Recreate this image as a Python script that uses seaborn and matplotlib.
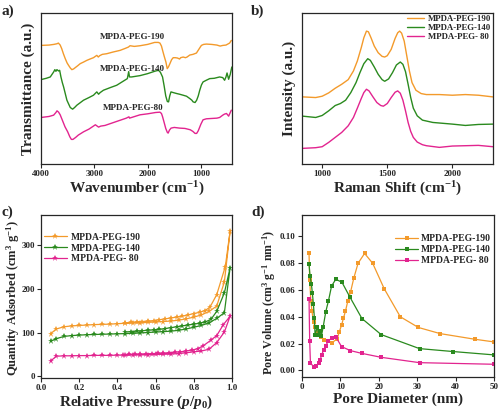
import matplotlib
matplotlib.use('Agg')
import matplotlib.pyplot as plt
import pandas as pd
import seaborn as sns

# colours / names
names = ['MPDA-PEG-190', 'MPDA-PEG-140', 'MPDA-PEG- 80']
colors = ['#F39A2B', '#2A8A1E', '#E2248F']

# a) FTIR (wavenumber, arbitrary transmittance offset)
ftir_x = {
    '190': [4000, 3850, 3760, 3700, 3674, 3640, 3611, 3580, 3545, 3510, 3483, 3450, 3421, 3390, 3358, 3310, 3265, 3200,
            3140, 3080, 3016, 2953, 2925, 2900, 2850, 2766, 2650, 2517, 2420, 2360, 2330, 2250, 2143, 2000, 1868, 1800,
            1769, 1740, 1719, 1690, 1657, 1632, 1610, 1582, 1550, 1520, 1480, 1440, 1400, 1380, 1333, 1290, 1260, 1209,
            1150, 1084, 1040, 991, 950, 898, 800, 700, 640, 587, 530, 462, 430],
    '140': [4000, 3900, 3826, 3763, 3740, 3720, 3701, 3670, 3650, 3626, 3600, 3576, 3545, 3514, 3480, 3451, 3407, 3370,
            3327, 3260, 3202, 3100, 3016, 2953, 2920, 2890, 2829, 2700, 2580, 2450, 2380, 2355, 2340, 2300, 2143, 2000,
            1850, 1795, 1760, 1720, 1690, 1660, 1630, 1607, 1585, 1562, 1520, 1452, 1400, 1333, 1270, 1209, 1170, 1147,
            1110, 1080, 1050, 1022, 990, 960, 900, 835, 750, 649, 590, 556, 530, 510, 480, 450, 420],
    '80': [4000, 3850, 3763, 3720, 3700, 3670, 3640, 3600, 3550, 3500, 3460, 3430, 3400, 3350, 3300, 3200, 3100, 2980,
           2920, 2880, 2800, 2600, 2400, 2350, 2340, 2143, 2000, 1850, 1769, 1740, 1719, 1690, 1660, 1630, 1615, 1590,
           1560, 1500, 1400, 1300, 1200, 1150, 1110, 1080, 1050, 1000, 960, 898, 800, 700, 649, 590, 560, 520, 480, 430],
}
ftir_y = {
    '190': [3.57, 3.58, 3.60, 3.62, 3.64, 3.58, 3.47, 3.32, 3.17, 3.04, 2.97, 2.89, 2.84, 2.86, 2.90, 2.96, 3.02, 3.07,
            3.12, 3.16, 3.20, 3.27, 3.22, 3.26, 3.30, 3.32, 3.37, 3.42, 3.48, 3.52, 3.56, 3.54, 3.56, 3.60, 3.66, 3.66,
            3.64, 3.55, 3.42, 3.25, 3.07, 2.87, 2.92, 3.02, 3.14, 3.20, 3.20, 3.19, 3.16, 3.20, 3.22, 3.20, 3.22, 3.28,
            3.30, 3.34, 3.45, 3.57, 3.60, 3.61, 3.60, 3.58, 3.55, 3.57, 3.58, 3.64, 3.72],
    '140': [2.54, 2.58, 2.62, 2.77, 2.84, 2.79, 2.84, 2.80, 2.82, 2.62, 2.45, 2.32, 2.12, 1.92, 1.80, 1.70, 1.65, 1.70,
            1.77, 1.85, 1.92, 2.00, 2.07, 2.17, 2.10, 2.15, 2.22, 2.30, 2.37, 2.50, 2.57, 2.78, 2.62, 2.62, 2.66, 2.72,
            2.80, 2.82, 2.76, 2.62, 2.35, 2.05, 1.88, 1.87, 2.05, 2.17, 2.15, 2.12, 2.10, 2.07, 2.04, 1.97, 1.92, 1.87,
            1.85, 1.92, 2.05, 2.22, 2.38, 2.47, 2.52, 2.57, 2.58, 2.62, 2.60, 2.52, 2.62, 2.74, 2.55, 2.70, 2.92],
    '80': [1.40, 1.43, 1.47, 1.55, 1.60, 1.56, 1.48, 1.32, 1.12, 0.97, 0.82, 0.74, 0.74, 0.80, 0.87, 0.97, 1.05, 1.18,
           1.11, 1.14, 1.16, 1.27, 1.38, 1.42, 1.38, 1.48, 1.51, 1.55, 1.56, 1.52, 1.42, 1.25, 1.07, 0.95, 0.93, 1.02,
           1.08, 1.10, 1.08, 1.07, 1.03, 0.98, 0.92, 0.92, 1.00, 1.20, 1.33, 1.36, 1.37, 1.38, 1.40, 1.47, 1.50, 1.52,
           1.44, 1.62],
}

# b) Raman
raman_x = {
    '190': [850, 950, 1000, 1050, 1100, 1150, 1200, 1240, 1270, 1300, 1320, 1340, 1355, 1375, 1400, 1430, 1460, 1480,
            1500, 1530, 1560, 1580, 1595, 1610, 1630, 1650, 1670, 1690, 1720, 1760, 1800, 1900, 2000, 2100, 2200, 2310],
    '140': [850, 900, 950, 1000, 1050, 1100, 1140, 1180, 1220, 1260, 1290, 1320, 1350, 1370, 1400, 1430, 1460, 1480,
            1510, 1540, 1570, 1600, 1620, 1640, 1660, 1680, 1700, 1730, 1770, 1850, 2000, 2100, 2200, 2310],
    '80': [850, 950, 1000, 1050, 1100, 1150, 1200, 1240, 1270, 1300, 1320, 1340, 1360, 1390, 1420, 1450, 1470, 1500,
           1530, 1560, 1580, 1600, 1620, 1640, 1660, 1680, 1700, 1730, 1770, 1800, 1900, 2000, 2100, 2200, 2310],
}
raman_y = {
    '190': [2.02, 2.00, 2.04, 2.14, 2.28, 2.40, 2.54, 2.80, 3.10, 3.50, 3.80, 4.00, 3.98, 3.80, 3.55, 3.35, 3.24, 3.22,
            3.26, 3.45, 3.78, 3.95, 4.00, 3.94, 3.70, 3.25, 2.80, 2.45, 2.22, 2.12, 2.09, 2.09, 2.07, 2.09, 2.07, 2.02],
    '140': [1.44, 1.42, 1.40, 1.46, 1.60, 1.76, 1.82, 1.92, 2.15, 2.45, 2.75, 3.02, 3.17, 3.12, 2.92, 2.70, 2.54, 2.49,
            2.56, 2.75, 2.98, 3.07, 3.00, 2.78, 2.40, 2.00, 1.68, 1.45, 1.32, 1.25, 1.20, 1.16, 1.19, 1.20],
    '80': [0.47, 0.49, 0.52, 0.65, 0.80, 0.95, 1.15, 1.40, 1.68, 1.97, 2.15, 2.25, 2.20, 2.02, 1.85, 1.76, 1.74, 1.82,
           2.00, 2.16, 2.20, 2.13, 1.92, 1.60, 1.25, 0.98, 0.80, 0.66, 0.58, 0.55, 0.50, 0.54, 0.55, 0.56, 0.52],
}

# c) N2 isotherms (adsorption then desorption branch)
iso_p = {
    '190': [0.05, 0.08, 0.12, 0.16, 0.20, 0.24, 0.28, 0.32, 0.36, 0.40, 0.44, 0.48, 0.52, 0.56, 0.60, 0.64, 0.68, 0.72, 0.76,
            0.80, 0.84, 0.88, 0.92, 0.96, 0.99, 0.965, 0.92, 0.885, 0.86, 0.83, 0.80, 0.77, 0.74, 0.71, 0.68, 0.65, 0.62,
            0.59, 0.56, 0.53, 0.50, 0.47, 0.44],
    '140': [0.05, 0.08, 0.12, 0.16, 0.20, 0.24, 0.28, 0.32, 0.36, 0.40, 0.44, 0.48, 0.52, 0.56, 0.60, 0.64, 0.68, 0.72, 0.76,
            0.80, 0.84, 0.88, 0.92, 0.96, 0.99, 0.96, 0.92, 0.89, 0.86, 0.83, 0.80, 0.77, 0.74, 0.71, 0.68, 0.65, 0.62,
            0.59, 0.56, 0.53, 0.50, 0.47, 0.44],
    '80': [0.05, 0.08, 0.12, 0.16, 0.20, 0.24, 0.28, 0.32, 0.36, 0.40, 0.44, 0.48, 0.52, 0.56, 0.60, 0.64, 0.68, 0.72, 0.76,
           0.80, 0.84, 0.88, 0.92, 0.96, 0.99, 0.955, 0.92, 0.888, 0.85, 0.82, 0.79, 0.76, 0.73, 0.70, 0.67, 0.64, 0.61,
           0.58, 0.55, 0.52, 0.49, 0.46, 0.43],
}
iso_q = {
    '190': [97, 108, 113, 115, 116, 117, 118, 118.5, 119, 120, 121, 121.5, 122, 123, 124, 125, 126, 128, 131, 135, 140, 148,
            160, 215, 330, 250, 186, 158, 150, 146, 143, 140, 137, 135, 133, 131, 129, 127, 126, 125, 124, 123, 122],
    '140': [80, 86, 91, 93, 94, 95, 95.5, 96, 96.5, 97, 97.5, 98, 99, 100, 101, 102, 103, 105, 108, 112, 116, 122, 132, 145,
            247, 190, 148, 130, 124, 121, 119, 117, 115, 113, 111, 109, 107, 106, 105, 104, 103, 102, 101],
    '80': [35, 46, 47, 47, 47.5, 47.5, 48, 48, 48, 48.5, 48.5, 49, 49, 49.5, 50, 50.5, 51, 52, 54, 56, 58, 62, 77, 101, 137,
           118, 93, 82, 70, 63, 60, 58, 56, 55, 54, 53, 52.5, 52, 51.5, 51, 50.5, 50, 49.5],
}

# d) BJH pore size distribution
psd_d = {
    '190': [1.83, 2.0, 2.3, 2.6, 3.0, 3.5, 4.2, 5.0, 5.8, 6.7, 7.8, 9.2, 9.7, 10.3, 10.8, 11.3, 11.95, 12.65, 13.5, 14.6,
            16.3, 18.4, 21.4, 25.6, 30.3, 36.0, 45.0, 50.0],
    '140': [1.83, 2.09, 2.44, 2.7, 2.97, 3.23, 3.4, 4.0, 4.28, 4.7, 5.06, 5.5, 6.2, 6.9, 7.7, 8.8, 10.4, 12.5, 15.6, 20.6,
            30.6, 39.4, 50.0],
    '80': [1.83, 2.0, 2.2, 3.1, 3.75, 4.3, 4.7, 5.15, 5.6, 6.2, 6.9, 7.7, 8.8, 10.3, 12.6, 15.5, 20.6, 30.6, 50.0],
}
psd_v = {
    '190': [0.0876, 0.0676, 0.052, 0.044, 0.036, 0.032, 0.028, 0.025, 0.023, 0.022, 0.0205, 0.0237, 0.0287, 0.0337, 0.039,
            0.044, 0.052, 0.0586, 0.069, 0.080, 0.0873, 0.080, 0.061, 0.040, 0.032, 0.0274, 0.0232, 0.0212],
    '140': [0.0796, 0.0706, 0.0646, 0.0576, 0.0496, 0.0389, 0.0264, 0.0327, 0.0264, 0.029, 0.0257, 0.0322, 0.0439, 0.052,
            0.063, 0.068, 0.0658, 0.0546, 0.0387, 0.0267, 0.0162, 0.014, 0.0115],
    '80': [0.0531, 0.022, 0.0052, 0.0027, 0.0035, 0.0052, 0.0077, 0.0115, 0.0152, 0.0185, 0.022, 0.024, 0.025, 0.0177,
           0.0147, 0.0127, 0.0097, 0.0057, 0.0045],
}

keys = ['190', '140', '80']

sns.set_style('ticks')
plt.rcParams['font.family'] = ['Liberation Serif', 'DejaVu Serif']
plt.rcParams['font.weight'] = 'bold'
plt.rcParams['mathtext.fontset'] = 'custom'
plt.rcParams['mathtext.rm'] = 'Liberation Serif:bold'
plt.rcParams['mathtext.it'] = 'Liberation Serif:bold:italic'
plt.rcParams['mathtext.bf'] = 'Liberation Serif:bold'
plt.rcParams['axes.linewidth'] = 0.9

fig = plt.figure(figsize=(5.0, 4.12), dpi=100)
ax_a = fig.add_axes([0.082, 0.602, 0.382, 0.366])
ax_b = fig.add_axes([0.604, 0.602, 0.382, 0.366])
ax_c = fig.add_axes([0.082, 0.083, 0.382, 0.395])
ax_d = fig.add_axes([0.604, 0.085, 0.384, 0.393])

lab_fs = 11
tick_fs = 6.5

# a)
for k, n, c in zip(keys, names, colors):
    df = pd.DataFrame({'x': ftir_x[k], 'y': ftir_y[k]})
    sns.lineplot(data=df, x='x', y='y', ax=ax_a, color=c, lw=1.0, sort=False, estimator=None)
ax_a.set_xlim(4000, 417)
ax_a.set_ylim(0, 4.54)
ax_a.set_xticks([4000, 3000, 2000, 1000])
ax_a.set_yticks([])
for n, yy in zip(names[:2] + ['MPDA-PEG-80'], [3.82, 2.85, 1.70]):
    ax_a.text(2280, yy, n, ha='center', va='center', fontsize=6.5, fontweight='bold')
ax_a.set_xlabel('Wavenumber (cm$^{-1}$)', fontsize=lab_fs, fontweight='bold', labelpad=1)
ax_a.set_ylabel('Transmittance (a.u.)', fontsize=lab_fs, fontweight='bold', labelpad=4)

# b)
for k, n, c in zip(keys, names, colors):
    df = pd.DataFrame({'x': raman_x[k], 'y': raman_y[k]})
    sns.lineplot(data=df, x='x', y='y', ax=ax_b, color=c, lw=1.0, label=n, sort=False, estimator=None)
ax_b.set_xlim(845, 2312)
ax_b.set_ylim(0, 4.54)
ax_b.set_xticks([1000, 1500, 2000])
ax_b.set_yticks([])
ax_b.legend(loc='upper right', frameon=False, fontsize=6.3, handlelength=1.9, handletextpad=0.5,
            labelspacing=0.1, borderaxespad=0.1, borderpad=0.1)
ax_b.set_xlabel('Raman Shift (cm$^{-1}$)', fontsize=lab_fs, fontweight='bold', labelpad=1)
ax_b.set_ylabel('Intensity (a.u.)', fontsize=lab_fs, fontweight='bold', labelpad=4)

# c)
for k, n, c in zip(keys, names, colors):
    df = pd.DataFrame({'x': iso_p[k], 'y': iso_q[k]})
    sns.lineplot(data=df, x='x', y='y', ax=ax_c, color=c, lw=0.9, marker='*', markersize=4.5,
                 markeredgewidth=0, label=n, sort=False, estimator=None)
ax_c.set_xlim(0, 1.0)
ax_c.set_ylim(-3, 367)
ax_c.set_xticks([0.0, 0.2, 0.4, 0.6, 0.8, 1.0])
ax_c.set_yticks([0, 100, 200, 300])
ax_c.legend(loc='upper left', bbox_to_anchor=(0.0, 0.91), frameon=False, fontsize=6.9, handlelength=2.4,
            handletextpad=0.4, labelspacing=0.2, borderaxespad=0.2, borderpad=0.1)
ax_c.set_xlabel('Relative Pressure ($\\mathit{p/p_0}$)', fontsize=lab_fs, fontweight='bold', labelpad=1)
ax_c.set_ylabel('Quantity Adsorbed (cm$^3$ g$^{-1}$)', fontsize=9, fontweight='bold', labelpad=2)
ax_c.yaxis.set_label_coords(-0.1, 0.49)

# d)
for k, n, c in zip(keys, names, colors):
    df = pd.DataFrame({'x': psd_d[k], 'y': psd_v[k]})
    sns.lineplot(data=df, x='x', y='y', ax=ax_d, color=c, lw=0.9, marker='s', markersize=2.8,
                 markeredgewidth=0, label=n, sort=False, estimator=None)
ax_d.set_xlim(0, 50)
ax_d.set_ylim(-0.005, 0.116)
ax_d.set_xticks([0, 10, 20, 30, 40, 50])
ax_d.set_yticks([0.0, 0.02, 0.04, 0.06, 0.08, 0.10])
ax_d.yaxis.set_major_formatter(matplotlib.ticker.FormatStrFormatter('%.2f'))
ax_d.legend(loc='upper right', bbox_to_anchor=(1.0, 0.9), frameon=False, fontsize=6.9, handlelength=2.4,
            handletextpad=0.3, labelspacing=0.2, borderaxespad=0.2, borderpad=0.1)
ax_d.set_xlabel('Pore Diameter (nm)', fontsize=lab_fs, fontweight='bold', labelpad=1)
ax_d.set_ylabel('Pore Volume (cm$^3$ g$^{-1}$ nm$^{-1}$)', fontsize=8.6, fontweight='bold', labelpad=2)
ax_d.yaxis.set_label_coords(-0.125, 0.46)

for ax in [ax_a, ax_b, ax_c, ax_d]:
    ax.tick_params(labelsize=tick_fs, length=3, width=0.8, pad=1.5)
    for t in ax.get_xticklabels() + ax.get_yticklabels():
        t.set_fontweight('bold')

fig.text(0.002, 0.988, 'a)', fontsize=11, fontweight='bold', va='top')
fig.text(0.502, 0.988, 'b)', fontsize=11, fontweight='bold', va='top')
fig.text(0.002, 0.5, 'c)', fontsize=11, fontweight='bold', va='top')
fig.text(0.502, 0.5, 'd)', fontsize=11, fontweight='bold', va='top')

fig.savefig('out.png', dpi=100)
